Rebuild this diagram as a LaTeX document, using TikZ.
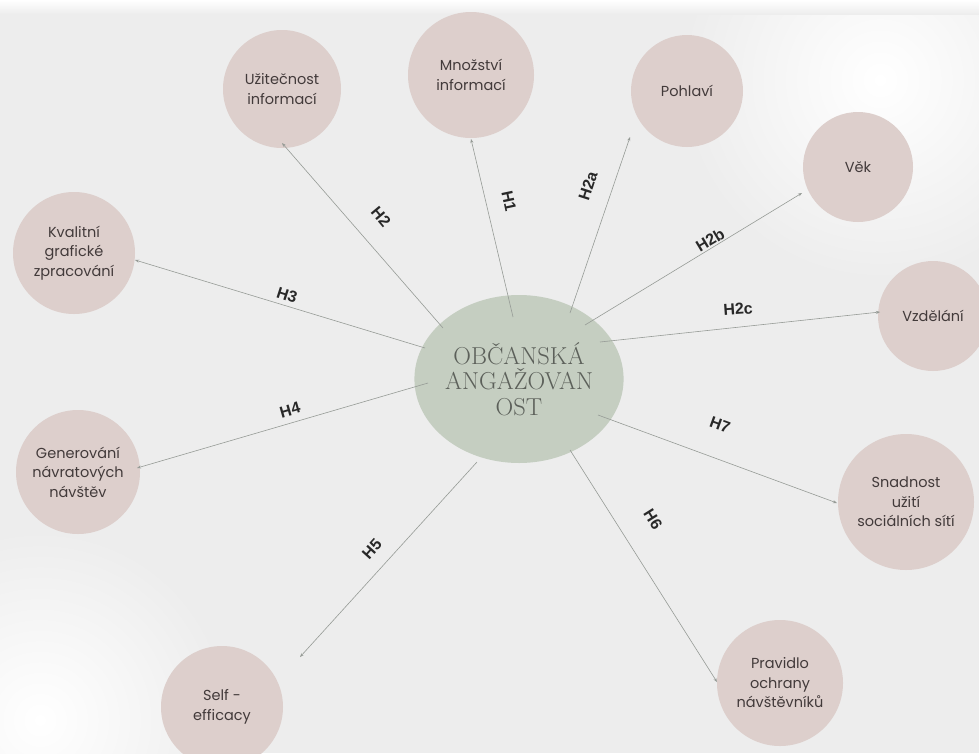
\documentclass[tikz,border=0pt]{standalone}
\usepackage{fontspec}
\newfontfamily\nodefont{Poppins}
\newfontfamily\lblfont{Liberation Sans}
\usetikzlibrary{shapes.geometric,arrows.meta,calc}
\definecolor{bgc}{RGB}{237,237,237}
\definecolor{pinkc}{RGB}{221,207,204}
\definecolor{greenc}{RGB}{197,206,193}
\definecolor{linec}{RGB}{150,155,150}
\definecolor{txtc}{RGB}{66,58,58}
\definecolor{hubtxt}{RGB}{92,96,90}
\definecolor{lblc}{RGB}{40,40,40}
\tikzset{
  outer/.style={circle, fill=pinkc, inner sep=0pt, align=center, text=txtc,
    font=\nodefont\fontsize{14.5}{19.5}\selectfont},
  hub/.style={ellipse, fill=greenc, inner sep=0pt, minimum width=178pt, minimum height=168pt,
    align=center, text=hubtxt, font=\fontsize{24.5}{25.5}\selectfont},
  hyp/.style={text=lblc, font=\lblfont\bfseries\fontsize{16}{16}\selectfont, inner sep=0pt},
  conn/.style={draw=linec, line width=0.6pt, -{Stealth[length=4pt,width=3pt]}}
}
\begin{document}
\begin{tikzpicture}[x=1pt,y=-1pt]
\useasboundingbox (0,0) rectangle (979,753);
\fill[bgc] (0,0) rectangle (979,753);
\shade[inner color=white, outer color=bgc] (880,80) circle (200);
\shade[inner color=white, outer color=bgc] (40,720) circle (190);
\shade[top color=white, bottom color=bgc] (0,0) rectangle (979,14);

% hub
\node[hub] (c) at (519,379) {OBČANSKÁ\\ANGAŽOVAN\\OST};

% outer nodes
\node[outer, minimum size=118pt] (uzit) at (282,89) {Užitečnost\\informací};
\node[outer, minimum size=126pt] (mnoz) at (471,75) {Množství\\informací};
\node[outer, minimum size=112pt] (pohl) at (687,91) {Pohlaví};
\node[outer, minimum size=110pt] (vek) at (858,167) {Věk};
\node[outer, minimum size=110pt] (vzd) at (933,316) {Vzdělání};
\node[outer, minimum size=136pt] (snad) at (906,502) {Snadnost\\užití\\sociálních sítí};
\node[outer, minimum size=126pt] (prav) at (780,683) {Pravidlo\\ochrany\\návštěvníků};
\node[outer, minimum size=122pt] (self) at (222,707) {Self -\\efficacy};
\node[outer, minimum size=124pt] (gen) at (78,472) {Generování\\návratových\\návštěv};
\node[outer, minimum size=122pt] (kval) at (74,253) {Kvalitní\\grafické\\zpracování};

% connectors
\draw[conn] ($(c)+(-76,-51)$) -- ($(uzit)+(0,54)$);
\draw[conn] ($(c)+(-6,-62)$) -- ($(mnoz)+(0,64)$);
\draw[conn] ($(c)+(51,-66)$) -- ($(pohl)+(-57,46)$);
\draw[conn] ($(c)+(66,-54)$) -- ($(vek)+(-56,26)$);
\draw[conn] ($(c)+(81,-37)$) -- ($(vzd)+(-53,-4)$);
\draw[conn] ($(c)+(79,36)$) -- ($(snad)+(-69,1)$);
\draw[conn] ($(c)+(51,71)$) -- ($(prav)+(-63,-1)$);
\draw[conn] ($(c)+(-42,83)$) -- ($(self)+(78,-50)$);
\draw[conn] ($(c)+(-91,4)$) -- ($(gen)+(59,-4)$);
\draw[conn] ($(c)+(-94,-31)$) -- ($(kval)+(61,7)$);

% hypothesis labels
\node[hyp, rotate=-50] (l2) at (381,217) {H2};
\node[hyp, rotate=-78] (l1) at (509,201) {H1};
\node[hyp, rotate=72] (l2a) at (588,186) {H2a};
\node[hyp, rotate=31] (l2b) at (710,240) {H2b};
\node[hyp, rotate=4] (l2c) at (738,309) {H2c};
\node[hyp, rotate=-20] (l7) at (720,425) {H7};
\node[hyp, rotate=-58] (l6) at (653,519) {H6};
\node[hyp, rotate=48] (l5) at (372,549) {H5};
\node[hyp, rotate=16] (l4) at (290,410) {H4};
\node[hyp, rotate=-18] (l3) at (287,295) {H3};
\end{tikzpicture}
\end{document}
